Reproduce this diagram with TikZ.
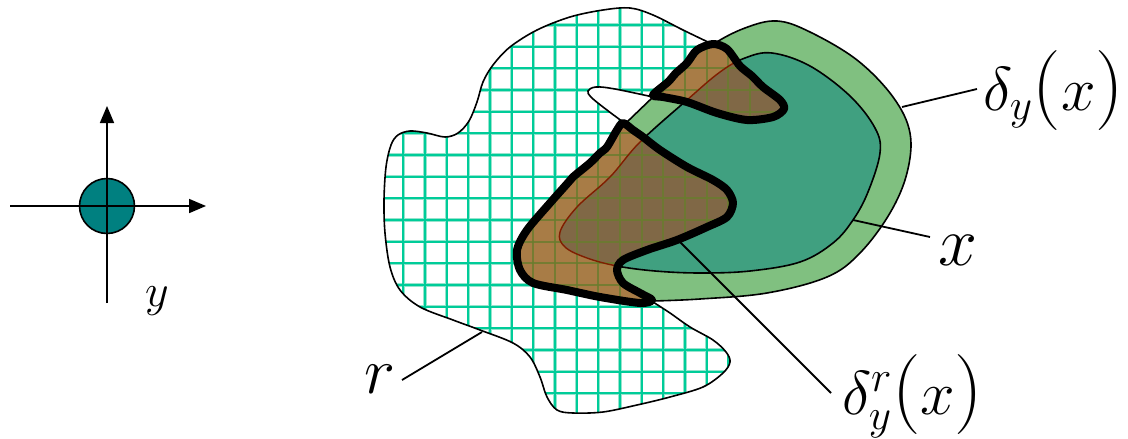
\RequirePackage{fix-cm}
\documentclass[tikz,border=0pt]{standalone}
\usetikzlibrary{arrows.meta}
\definecolor{gridc}{RGB}{0,204,153}
\definecolor{gridh}{RGB}{150,228,205}
\definecolor{bandg}{RGB}{128,192,128}
\definecolor{xteal}{RGB}{64,160,128}
\definecolor{cteal}{RGB}{0,128,128}
\definecolor{brownl}{RGB}{168,124,70}
\definecolor{brownd}{RGB}{128,104,70}
\definecolor{gridb}{RGB}{105,125,45}
\definecolor{redl}{RGB}{128,30,0}
\newcommand\mybigpar[1]{{\fontsize{80}{80}\selectfont$#1$}}
\tikzset{
  outl/.style={draw=black, line width=1.6pt},
  lead/.style={draw=black, line width=1.8pt},
  bline/.style={draw=black, line width=8pt, line join=round},
  lab/.style={anchor=base west, inner sep=0pt, outer sep=0pt},
  gridline/.style={gridc, line width=1.8pt},
  gridhalo/.style={gridh, line width=3.6pt},
  rtop/.style={insert path={-- plot[smooth,tension=0.55] coordinates {(710,43)(683,30)(653,15)(630,8)(603,10)(570,17)(537,30)(510,47)(493,65)(483,82)(477,102)(469,121)(458,133)(445,137)(427,133)(410,131)(398,135)(391,145)(386,167)(384,200)(385,233)(390,267)(400,290)(420,307)(453,320)(480,330)(513,343)(530,357)(540,377)(547,397)(557,410)(573,413)(603,412)(637,405)(670,397)(703,387)(723,373)(730,362)(726,352)(713,340)(690,327)(670,313)(653,302)}}},
  tongue/.style={insert path={-- plot[smooth,tension=0.6] coordinates {(623,122)(603,107)(591,97)(588,91)(596,87)(615,89)(653,97)}}},
  gout/.style={insert path={-- plot[smooth,tension=0.6] coordinates {(627,122)(653,97)(681,70)(712,45)(745,28)(777,21)(810,32)(857,60)(893,97)(910,133)(907,173)(890,213)(860,253)(827,277)(767,293)(700,299)(653,301)}}},
  xsh/.style={insert path={plot[smooth cycle,tension=0.6] coordinates {(617,266)(587,258)(565,247)(560,232)(577,207)(610,177)(640,142)(687,100)(720,72)(745,58)(772,53)(810,66)(850,96)(875,128)(880,153)(868,192)(853,220)(833,243)(800,262)(750,271)(700,273)(655,271)}}},
  ubrown/.style={insert path={plot[smooth cycle,tension=0.5] coordinates {(653,95)(668,82)(676,73)(687,63)(697,50)(713,44)(727,49)(740,66)(752,76)(763,87)(780,100)(784,109)(773,117)(747,120)(717,113)(687,102)(663,97)}}},
  lbrown/.style={insert path={plot[smooth cycle,tension=0.5] coordinates {(623,123)(633,130)(643,137)(660,150)(687,167)(713,180)(727,190)(733,203)(727,217)(707,227)(677,240)(647,250)(623,260)(617,270)(623,283)(640,293)(652,300)(640,303)(600,297)(567,290)(533,283)(520,270)(517,250)(527,230)(550,203)(566,185)(573,177)(590,163)(600,153)(607,147)(617,130)}}},
}
\begin{document}
\begin{tikzpicture}[x=1pt,y=-1pt]
\useasboundingbox (0,0) rectangle (1128,439);
% crosshair with disc
\node[circle, fill=cteal, draw=black, line width=1.6pt, minimum size=55pt, inner sep=0pt] (disc) at (107,206) {};
\coordinate (hl) at (10,206);
\coordinate (hr) at (206,206);
\coordinate (vb) at (107,303);
\coordinate (vt) at (107,106);
\draw[line width=1.8pt, -{Triangle[length=17pt,width=14pt]}] (hl) -- (hr);
\draw[line width=1.8pt, -{Triangle[length=17pt,width=14pt]}] (vb) -- (vt);
\node[lab, font=\fontsize{46}{46}\selectfont] (ylab) at (145,306) {$y$};

% region r with grid
\begin{scope}
  \clip (710,43) [rtop] -- (700,260) -- (650,140) -- (623,122) [tongue] -- (700,70) -- cycle;
  \fill[white] (0,0) rectangle (1128,439);
  \foreach \k in {-1,...,16} \draw[gridhalo] ({403.3+21.67*\k},0) -- ({403.3+21.67*\k},439);
  \foreach \k in {0,...,20} \draw[gridhalo] (300,{3.3+21.67*\k}) -- (800,{3.3+21.67*\k});
  \foreach \k in {-1,...,16} \draw[gridline] ({403.3+21.67*\k},0) -- ({403.3+21.67*\k},439);
  \foreach \k in {0,...,20} \draw[gridline] (300,{3.3+21.67*\k}) -- (800,{3.3+21.67*\k});
\end{scope}
\draw[outl] (710,43) [rtop];
\draw[outl] (623,122) [tongue];

% dilation delta_y(x)
\fill[bandg] (627,122) [gout] -- (610,293) -- (545,268) -- (570,205) -- (612,150) -- cycle;
\draw[outl] (627,122) [gout];

% set x
\path[fill=xteal, outl] [xsh];

% geodesic dilation (brown)
\fill[brownl] [ubrown] [lbrown];
\begin{scope}
  \clip [ubrown] [lbrown];
  \fill[brownd] [xsh];
  \foreach \k in {-1,...,16} \draw[gridb, line width=2pt, opacity=0.8] ({403.3+21.67*\k},0) -- ({403.3+21.67*\k},439);
  \foreach \k in {0,...,20} \draw[gridb, line width=2pt, opacity=0.8] (300,{3.3+21.67*\k}) -- (800,{3.3+21.67*\k});
  \draw[redl, line width=1.4pt] [xsh];
\end{scope}
\draw[bline] [ubrown] [lbrown];

% labels
\node[lab, font=\fontsize{66}{66}\selectfont] (rlab) at (364,393) {$r$};
\coordinate (rs) at (402,380);
\coordinate (re) at (482,332);
\draw[lead] (rs) -- (re);

\node[lab, font=\fontsize{70}{70}\selectfont] (xlab) at (938,265) {$x$};
\coordinate (xs) at (930,237);
\coordinate (xe) at (853,220);
\draw[lead] (xs) -- (xe);

\node[lab, font=\fontsize{62}{62}\selectfont] (d1) at (983,110) {$\delta_y$\mybigpar{(}$x$\mybigpar{)}};
\coordinate (ds) at (977,89);
\coordinate (de) at (902,107);
\draw[lead] (ds) -- (de);

\node[lab, font=\fontsize{62}{62}\selectfont] (d2) at (842,414) {$\delta_y^r$\mybigpar{(}$x$\mybigpar{)}};
\coordinate (gs) at (831,393);
\coordinate (ge) at (678,240);
\draw[lead] (gs) -- (ge);
\end{tikzpicture}
\end{document}
